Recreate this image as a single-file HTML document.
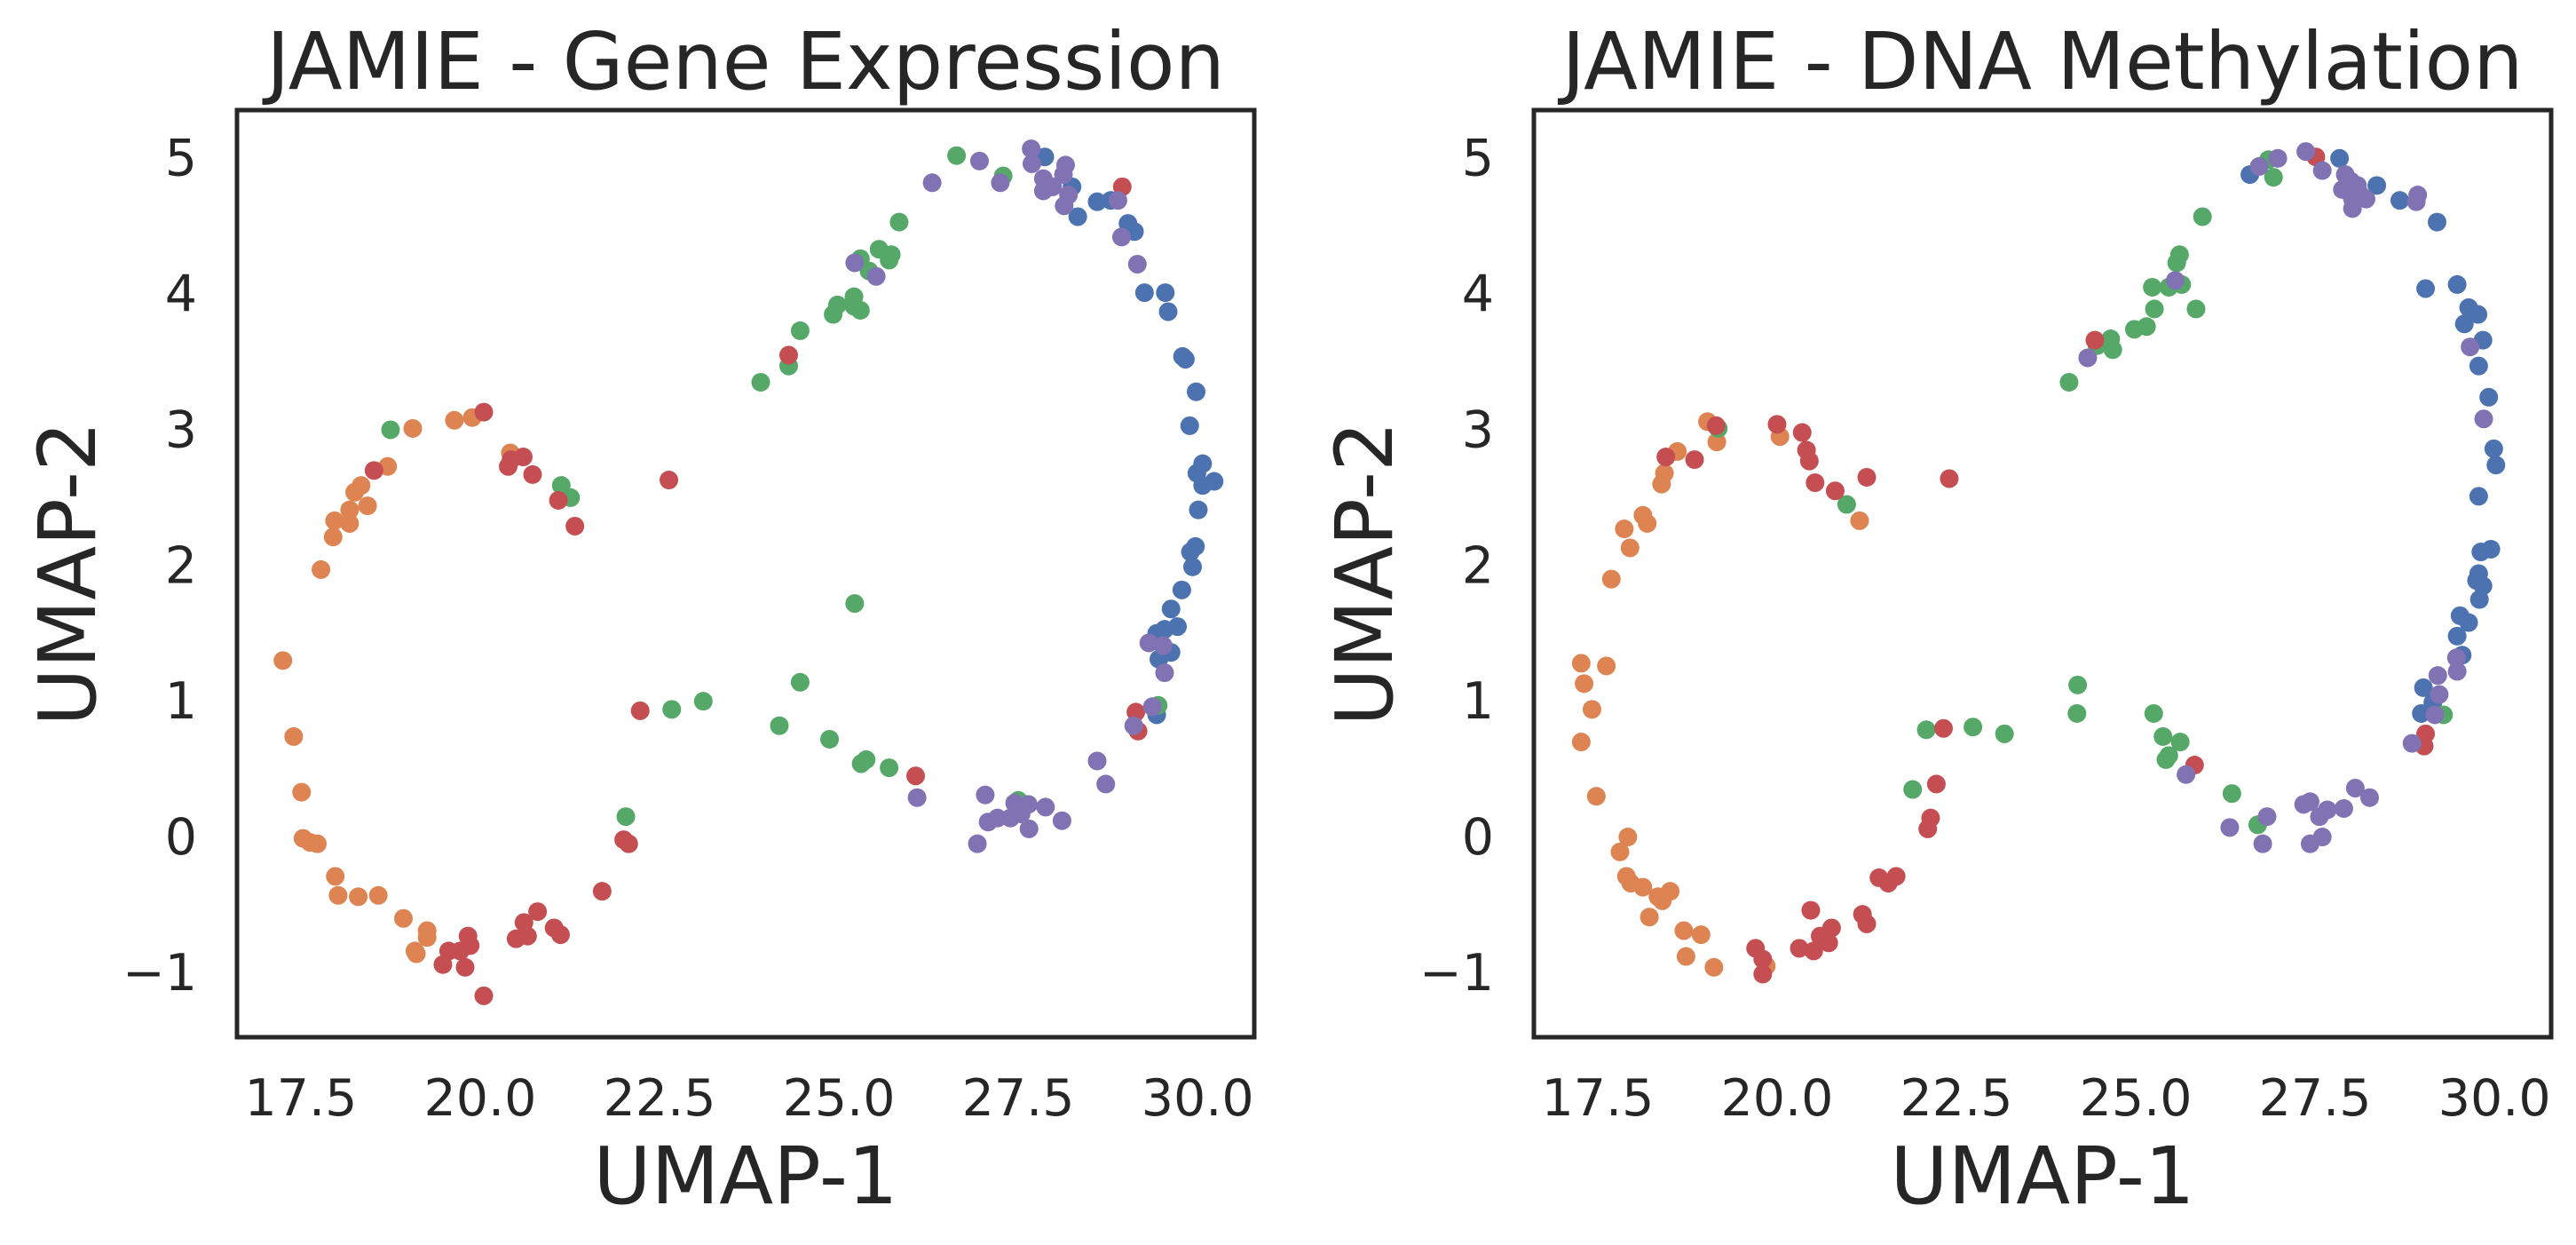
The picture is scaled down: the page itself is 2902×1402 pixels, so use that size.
<!DOCTYPE html>
<html><head><meta charset="utf-8"><style>
html,body{margin:0;padding:0;background:#fff;}
svg{display:block;font-family:"DejaVu Sans","Liberation Sans",sans-serif;}
</style></head><body>
<svg id="fig" width="2902" height="1402" viewBox="0 0 2902 1402" xmlns="http://www.w3.org/2000/svg"></svg>
<script>
const xTicks=[17.5,20.0,22.5,25.0,27.5,30.0];
const xTickLabels=["17.5","20.0","22.5","25.0","27.5","30.0"];
const yTicks=[5,4,3,2,1,0,-1];
const yTickLabels=["5","4","3","2","1","0","\u22121"];
const classNames=["blue","orange","green","red","purple"];
const classColors=["#4c72b0","#dd8452","#55a868","#c44e52","#8172b3"];

// Gene Expression panel
const geBlueX=[27.87,28.25,28.33,28.60,28.79,29.03,29.12,29.26,29.55,29.59,29.79,29.83,29.98,29.89,30.07,29.99,30.07,30.23,30.01,29.97,29.90,29.93,29.78,29.63,29.72,29.43,29.54,29.63,29.46,29.43];
const geBlueY=[5.00,4.78,4.56,4.67,4.68,4.51,4.45,4.00,4.00,3.86,3.53,3.51,3.27,3.02,2.74,2.67,2.58,2.61,2.40,2.13,2.09,1.98,1.81,1.67,1.54,1.49,1.52,1.35,1.30,0.89];
const geOrangeX=[17.25,17.40,17.51,17.53,17.63,17.73,17.98,18.02,18.30,18.58,18.93,19.26,19.26,19.09,19.11,17.78,17.95,17.97,18.18,18.18,18.25,18.34,18.43,18.71,19.06,19.64,19.89,20.42];
const geOrangeY=[1.29,0.73,0.32,-0.02,-0.05,-0.06,-0.30,-0.44,-0.45,-0.44,-0.61,-0.70,-0.75,-0.85,-0.87,1.96,2.20,2.32,2.30,2.40,2.53,2.58,2.43,2.72,3.00,3.06,3.08,2.82];
const geGreenX=[18.75,21.13,21.26,22.03,22.67,23.11,23.91,24.30,24.46,24.92,24.98,25.21,25.21,25.30,25.30,25.42,25.56,25.70,25.73,25.84,26.64,27.29,25.22,24.46,24.17,24.87,25.31,25.38,25.70,27.50,29.45];
const geGreenY=[2.99,2.58,2.49,0.14,0.93,0.99,3.34,3.46,3.72,3.84,3.91,3.97,3.90,3.87,4.25,4.16,4.32,4.24,4.28,4.52,5.01,4.86,1.71,1.13,0.81,0.71,0.53,0.56,0.50,0.26,0.96];
const geRedX=[20.05,18.52,20.39,20.43,20.60,20.73,21.09,21.32,22.63,22.23,22.00,22.07,21.70,20.05,19.83,19.86,19.72,19.56,19.48,19.79,20.50,20.66,20.61,20.80,21.03,21.12,24.30,26.07,28.95,29.14,29.17];
const geRedY=[3.12,2.69,2.72,2.77,2.79,2.66,2.47,2.28,2.62,0.92,-0.03,-0.06,-0.41,-1.18,-0.74,-0.81,-0.85,-0.85,-0.95,-0.97,-0.76,-0.74,-0.64,-0.56,-0.68,-0.73,3.54,0.44,4.78,0.91,0.77];
const gePurpleX=[25.22,25.52,26.30,26.96,27.25,27.68,27.69,27.85,27.85,27.98,28.16,28.13,28.20,28.14,28.89,28.94,29.16,29.32,29.52,29.54,29.37,29.11,28.60,28.72,26.09,26.93,27.04,27.08,27.21,27.39,27.54,27.64,27.65,27.88,28.11,27.45];
const gePurpleY=[4.22,4.12,4.81,4.97,4.81,5.06,4.95,4.84,4.75,4.78,4.94,4.87,4.72,4.64,4.68,4.41,4.21,1.42,1.40,1.20,0.95,0.81,0.55,0.38,0.28,-0.06,0.30,0.10,0.13,0.13,0.16,0.23,0.05,0.21,0.11,0.24];

// DNA Methylation panel
const dmBlueX=[26.59,27.84,28.36,28.68,29.20,29.04,29.48,29.64,29.77,29.58,29.84,29.78,29.92,29.99,30.02,29.78,29.95,29.81,29.78,29.75,29.84,29.79,29.52,29.64,29.48,29.55,29.01,28.98,29.14];
const dmBlueY=[4.87,4.99,4.79,4.68,4.52,4.03,4.06,3.89,3.84,3.77,3.65,3.46,3.23,2.85,2.73,2.50,2.11,2.09,1.93,1.88,1.84,1.74,1.62,1.57,1.47,1.33,1.09,0.90,0.98];
const dmOrangeX=[17.27,17.62,17.31,17.42,17.27,17.48,17.92,17.81,17.90,17.96,18.13,18.34,18.40,18.51,18.22,18.70,18.94,18.73,19.12,19.85,17.69,17.95,17.87,18.19,18.13,18.39,18.43,18.61,19.03,19.16,20.04,21.15];
const dmOrangeY=[1.27,1.25,1.12,0.93,0.69,0.29,-0.01,-0.12,-0.30,-0.35,-0.38,-0.45,-0.48,-0.41,-0.60,-0.70,-0.73,-0.89,-0.97,-0.96,1.89,2.12,2.26,2.30,2.36,2.59,2.67,2.83,3.05,2.90,2.94,2.32];
const dmGreenX=[19.18,20.97,21.89,22.08,22.73,23.17,24.07,24.19,24.18,24.46,24.65,24.68,24.98,25.15,25.26,25.23,25.46,25.64,25.84,25.57,25.61,25.93,26.85,26.92,25.25,25.38,25.62,25.42,25.46,26.34,26.70,29.29];
const dmGreenY=[3.00,2.44,0.34,0.78,0.80,0.75,3.34,1.11,0.90,3.61,3.66,3.58,3.73,3.75,3.88,4.04,4.04,4.06,3.88,4.22,4.28,4.56,4.98,4.85,0.90,0.73,0.69,0.56,0.59,0.31,0.08,0.89];
const dmRedX=[18.45,18.85,19.15,20.00,20.35,20.41,20.45,20.53,20.81,21.25,22.40,22.32,22.22,22.14,22.10,21.42,21.55,21.66,21.19,21.25,20.47,20.76,20.60,20.72,20.51,20.31,19.70,19.80,19.80,24.43,25.82,27.51,29.04,29.02];
const dmRedY=[2.79,2.77,3.02,3.03,2.97,2.84,2.76,2.60,2.54,2.64,2.63,0.79,0.38,0.13,0.05,-0.31,-0.35,-0.30,-0.58,-0.65,-0.55,-0.68,-0.74,-0.79,-0.85,-0.83,-0.83,-0.91,-1.02,3.65,0.52,5.00,0.75,0.66];
const dmPurpleX=[25.55,24.33,26.72,26.98,27.37,27.60,27.92,27.88,28.00,28.09,28.02,28.12,28.21,28.02,28.93,28.91,29.66,29.85,29.47,29.48,29.21,29.23,29.17,28.85,25.70,26.31,26.77,26.83,27.34,27.43,27.56,27.67,27.90,28.06,28.26,27.43,27.60];
const dmPurpleY=[4.09,3.52,4.93,4.99,5.04,4.90,4.87,4.76,4.82,4.79,4.69,4.73,4.69,4.62,4.72,4.67,3.60,3.07,1.31,1.21,1.18,1.04,0.89,0.68,0.45,0.06,-0.06,0.14,0.23,0.25,0.14,0.19,0.20,0.35,0.28,-0.06,-0.01];

const NS="http://www.w3.org/2000/svg";
const svg=document.getElementById('fig');
function mk(tag,attrs,parent){const e=document.createElementNS(NS,tag);for(const k in attrs)e.setAttribute(k,attrs[k]);(parent||svg).appendChild(e);return e;}

const X0=16.61,X1=30.79,Y0=-1.485,Y1=5.345;
function drawPanel(left,title,series,key){
  const right=left+1146,top=124,bottom=1168;
  const sx=v=>left+(v-X0)/(X1-X0)*(right-left);
  const sy=v=>bottom-(v-Y0)/(Y1-Y0)*(bottom-top);
  const g=mk('g',{});
  
  
  const t=mk('text',{x:(left+right)/2,y:100,'text-anchor':'middle','font-size':89,fill:'#262626'},g);
  t.textContent=title;
  
  
  xTicks.forEach((v,i)=>{
    const tl=mk('text',{x:sx(v),y:1256,'text-anchor':'middle','font-size':57,fill:'#262626'},g);
    tl.textContent=xTickLabels[i];
    
    
  });
  yTicks.forEach((v,i)=>{
    const tl=mk('text',{x:left-45,y:sy(v)+21,'text-anchor':'end','font-size':57,fill:'#262626'},g);
    tl.textContent=yTickLabels[i];
    
    
  });
  const xl=mk('text',{x:(left+right)/2,y:1355,'text-anchor':'middle','font-size':89,fill:'#262626'},g);
  xl.textContent='UMAP-1';
  
  
  const yx=left-160,yy=(top+bottom)/2;
  const yl=mk('text',{x:yx,y:yy,'text-anchor':'middle','font-size':89,fill:'#262626',transform:`rotate(-90 ${yx} ${yy})`},g);
  yl.textContent='UMAP-2';
  
  
  const pts=mk('g',{},g);
  
  
  series.forEach((s,ci)=>{
    s[0].forEach((xv,i)=>{
      const c=mk('circle',{cx:sx(xv),cy:sy(s[1][i]),r:10.5,fill:classColors[ci]},pts);
      
      
    });
  });
  const fr=mk('rect',{x:left,y:top,width:right-left,height:bottom-top,fill:'none',stroke:'#262626','stroke-width':5},g);
  
  
}
drawPanel(267,'JAMIE - Gene Expression',[[geBlueX,geBlueY],[geOrangeX,geOrangeY],[geGreenX,geGreenY],[geRedX,geRedY],[gePurpleX,gePurpleY]],'gene-expression');
drawPanel(1728,'JAMIE - DNA Methylation',[[dmBlueX,dmBlueY],[dmOrangeX,dmOrangeY],[dmGreenX,dmGreenY],[dmRedX,dmRedY],[dmPurpleX,dmPurpleY]],'dna-methylation');
</script>
</body></html>
